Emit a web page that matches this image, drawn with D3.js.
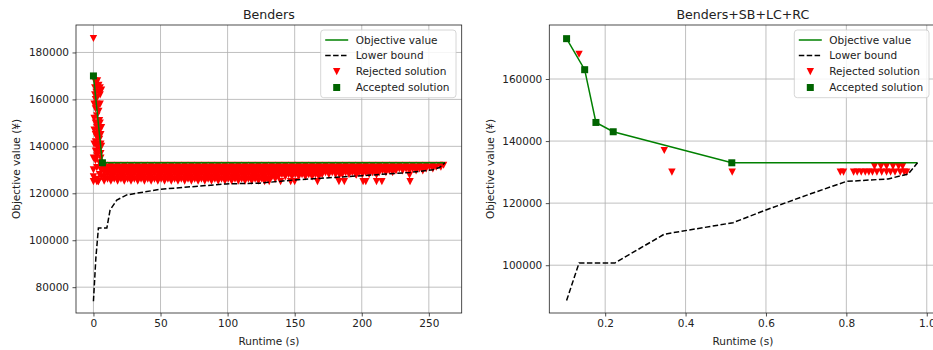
<!DOCTYPE html>
<html>
<head>
<meta charset="utf-8">
<script src="https://cdn.jsdelivr.net/npm/d3@7"></script>
<style>
  body { margin: 0; background: #fff; }
  svg { display: block; font-family: "DejaVu Sans", sans-serif; }
</style>
</head>
<body>
<div id="container"></div>
<script>
// ---- data: Benders (left) ----
const bendersObjT = [0, 6.7, 262];
const bendersObjV = [170000, 133000, 133000];
const bendersLbT = [0, 1.8, 3.7, 10, 12.4, 17.4, 24.8, 49.6, 99, 124, 150, 200, 236, 253, 258, 262];
const bendersLbV = [74000, 92400, 105200, 105200, 112900, 117100, 119300, 121700, 124000, 124300, 125700, 127500, 128900, 130000, 131000, 133000];
const bendersAccT = [0, 6.7];
const bendersAccV = [170000, 133000];

// rejected solutions in the first seconds
const bendersRejEarlyT = [0, 0, 0, 0, 0, 0.5, 0.5, 0.5, 0.5, 1, 1, 1, 1.5, 1.5, 1.5, 1.5, 1.5, 1.5, 1.5,
  2, 2, 2.5, 2.5, 2.5, 2.5, 2.5, 2.5, 2.5, 2.5, 3, 3, 3, 3.5, 3.5, 3.5, 3.5, 3.5, 3.5,
  4, 4, 4, 4.5, 4.5, 4.5, 4.5, 4.5, 4.5, 5, 5, 5, 5, 5.5, 5.5, 5.5, 5.5, 5.5, 6, 6, 6, 6, 6];
const bendersRejEarlyV = [186000, 135000, 130000, 127000, 125000, 158000, 152000, 147000, 141000, 168000, 165000, 162000, 160000, 156000, 150000, 145000, 142000, 138000, 134000,
  167000, 163000, 158000, 153000, 148000, 144000, 140000, 136000, 131000, 126000, 168000, 165000, 161000, 157000, 150000, 146000, 141000, 137000, 125000,
  166000, 163000, 155000, 151000, 147000, 143000, 139000, 133000, 128000, 165000, 162000, 158000, 150000, 145000, 141000, 137000, 135000, 130000, 164000, 148000, 140000, 132000, 127000];

// dense band of rejected solutions, read row by row
const bendersRejRowV = [132000, 131200, 130400, 129600, 128800, 128000, 127000, 126100, 125200];
const bendersRejRowT = [
  [8, 13, 18, 23, 28, 33, 38, 43, 48, 53, 58, 63, 68, 73, 78, 83, 88, 93, 98, 103, 108, 113, 118, 123, 128, 133, 138, 143, 148, 153, 158, 163, 168, 173, 178, 183, 188, 193, 198, 203, 208, 213, 218, 223, 228, 233, 238, 243, 248, 253, 258, 261],
  [10.5, 15.5, 20.5, 25.5, 30.5, 35.5, 40.5, 45.5, 50.5, 55.5, 60.5, 65.5, 70.5, 75.5, 80.5, 85.5, 90.5, 95.5, 100.5, 105.5, 110.5, 115.5, 120.5, 125.5, 130.5, 135.5, 140.5, 145.5, 150.5, 155.5, 160.5, 165.5, 170.5, 175.5, 180.5, 185.5, 190.5, 195.5, 200.5, 205.5, 210.5, 215.5, 220.5, 225.5, 230.5, 235.5, 240.5, 245.5, 250.5, 255.5, 259],
  [8, 13, 18, 23, 28, 33, 38, 43, 48, 53, 58, 63, 68, 73, 78, 83, 88, 93, 98, 103, 108, 113, 118, 123, 128, 133, 138, 143, 148, 153, 158, 163, 168, 173, 178, 183, 188, 193, 198, 203, 208, 213, 218, 223, 228, 233, 238, 243, 248, 253],
  [10.5, 15.5, 20.5, 25.5, 30.5, 35.5, 40.5, 45.5, 50.5, 55.5, 60.5, 65.5, 70.5, 75.5, 80.5, 85.5, 90.5, 95.5, 100.5, 105.5, 110.5, 115.5, 120.5, 125.5, 130.5, 135.5, 140.5, 145.5, 150.5, 155.5, 160.5, 165.5, 170.5, 175.5, 180.5, 185.5, 190.5, 195.5, 200.5, 205.5, 210.5, 215.5, 220.5, 225.5, 230.5, 235.5, 240.5, 245.5],
  [8, 13, 18, 23, 28, 33, 38, 43, 48, 53, 58, 63, 68, 73, 78, 83, 88, 93, 98, 103, 108, 113, 118, 123, 128, 133, 138, 143, 148, 153, 158, 163, 168, 173, 178, 183, 188, 193, 198, 203, 208, 213, 218, 223],
  [10.5, 15.5, 20.5, 25.5, 30.5, 35.5, 40.5, 45.5, 50.5, 55.5, 60.5, 65.5, 70.5, 75.5, 80.5, 85.5, 90.5, 95.5, 100.5, 105.5, 110.5, 115.5, 120.5, 125.5, 130.5, 135.5, 140.5, 145.5, 150.5, 155.5, 160.5, 165.5, 170.5, 175.5, 180.5, 185.5, 190.5, 195.5, 200.5, 205.5],
  [8, 13, 18, 23, 28, 33, 38, 43, 48, 53, 58, 63, 68, 73, 78, 83, 88, 93, 98, 103, 108, 113, 118, 123, 128, 133, 138, 143, 148, 153, 158, 163, 168],
  [10.5, 15.5, 20.5, 25.5, 30.5, 35.5, 40.5, 45.5, 50.5, 55.5, 60.5, 65.5, 70.5, 75.5, 80.5, 85.5, 90.5, 95.5, 100.5, 105.5, 110.5, 115.5, 120.5, 125.5, 130.5, 135.5],
  [8, 13, 18, 23, 28, 33, 38, 43, 48, 53, 58, 63, 68, 73, 78, 83, 88, 93, 98, 103, 108, 113, 118, 123]
];
// scattered rejected solutions below the band
const bendersRejLateT = [2.5, 3.7, 127.6, 131, 139.5, 147, 150, 167, 183, 187, 201, 203, 211, 215, 236, 183.5, 196, 211, 235.6];
const bendersRejLateV = [125000, 125000, 125000, 125000, 125000, 125000, 125000, 125000, 125000, 125000, 125000, 125000, 125000, 125000, 125000, 127800, 127800, 127800, 127800];

// ---- data: Benders+SB+LC+RC (right) ----
const fullObjT = [0.104, 0.149, 0.177, 0.22, 0.515, 0.977];
const fullObjV = [173000, 163000, 146000, 143000, 133000, 133000];
const fullLbT = [0.104, 0.135, 0.224, 0.347, 0.518, 0.6, 0.7, 0.8, 0.904, 0.954, 0.977];
const fullLbV = [88600, 100700, 100700, 110000, 113700, 117800, 122500, 127000, 127800, 129400, 133000];
const fullAccT = [0.104, 0.149, 0.177, 0.22, 0.515];
const fullAccV = [173000, 163000, 146000, 143000, 133000];
const fullRejT = [0.135, 0.347, 0.366, 0.516,
  0.785, 0.793, 0.818, 0.827, 0.837, 0.847, 0.856, 0.865, 0.876, 0.888, 0.9, 0.91, 0.921, 0.934, 0.944, 0.95,
  0.87, 0.886, 0.9, 0.916, 0.93, 0.94];
const fullRejV = [168000, 137000, 130000, 130000,
  130000, 130000, 130000, 130000, 130000, 130000, 130000, 130000, 130000, 130000, 130000, 130000, 130000, 130000, 130000, 130000,
  131900, 131900, 131900, 131900, 131900, 131900];

const bendersXTicks = [0, 50, 100, 150, 200, 250];
const bendersYTicks = [80000, 100000, 120000, 140000, 160000, 180000];
const fullXTicks = [0.2, 0.4, 0.6, 0.8, 1.0];
const fullYTicks = [100000, 120000, 140000, 160000];
const legendLabels = ["Objective value", "Lower bound", "Rejected solution", "Accepted solution"];

const zip = (t, v) => t.map((d, i) => ({ t: d, v: v[i] }));

const bendersRej = zip(bendersRejEarlyT, bendersRejEarlyV)
  .concat(...bendersRejRowT.map((row, i) => row.map(t => ({ t: t, v: bendersRejRowV[i] }))))
  .concat(zip(bendersRejLateT, bendersRejLateV));

const svg = d3.select("#container").append("svg")
  .attr("width", 933).attr("height", 350);

const triPath = "M-3.7,-3.5L3.7,-3.5L0,3.7Z";

function drawPanel(opt) {
  const x = d3.scaleLinear().domain(opt.xDomain).range([opt.left, opt.right]);
  const y = d3.scaleLinear().domain(opt.yDomain).range([313, 25]);
  const g = svg.append("g");

  // grid
  g.selectAll(".gx").data(opt.xTicks).enter().append("line")
    .attr("x1", d => x(d)).attr("x2", d => x(d)).attr("y1", 25).attr("y2", 313)
    .attr("stroke", "#b0b0b0").attr("stroke-width", 0.8);
  g.selectAll(".gy").data(opt.yTicks).enter().append("line")
    .attr("x1", opt.left).attr("x2", opt.right).attr("y1", d => y(d)).attr("y2", d => y(d))
    .attr("stroke", "#b0b0b0").attr("stroke-width", 0.8);

  // rejected
  g.selectAll(".rej").data(opt.rej).enter().append("path")
    .attr("d", triPath)
    .attr("transform", d => `translate(${x(d.t)},${y(d.v)})`)
    .attr("fill", "red");

  const line = d3.line().x(d => x(d.t)).y(d => y(d.v));
  g.append("path").datum(opt.obj).attr("d", line)
    .attr("fill", "none").attr("stroke", "green").attr("stroke-width", 1.5);
  g.append("path").datum(opt.lb).attr("d", line)
    .attr("fill", "none").attr("stroke", "black").attr("stroke-width", 1.5)
    .attr("stroke-dasharray", "5.5,2.4");

  g.selectAll(".acc").data(opt.acc).enter().append("rect")
    .attr("x", d => x(d.t) - 3.5).attr("y", d => y(d.v) - 3.5)
    .attr("width", 7).attr("height", 7).attr("fill", "darkgreen");

  // axes
  const xAxis = d3.axisBottom(x).tickValues(opt.xTicks).tickFormat(opt.xFormat)
    .tickSizeInner(3.5).tickSizeOuter(0).tickPadding(3.5);
  const yAxis = d3.axisLeft(y).tickValues(opt.yTicks).tickFormat(d3.format("d"))
    .tickSizeInner(3.5).tickSizeOuter(0).tickPadding(3.5);
  const ax = g.append("g").attr("transform", "translate(0,313)").call(xAxis);
  const ay = g.append("g").attr("transform", `translate(${opt.left},0)`).call(yAxis);
  [ax, ay].forEach(a => {
    a.select(".domain").remove();
    a.selectAll("line").attr("stroke", "#222").attr("stroke-width", 0.8);
    a.selectAll("text").attr("fill", "#222").style("font-size", "10.5px")
      .style("font-family", "DejaVu Sans");
  });

  // frame
  g.append("rect").attr("x", opt.left).attr("y", 25)
    .attr("width", opt.right - opt.left).attr("height", 288)
    .attr("fill", "none").attr("stroke", "#222").attr("stroke-width", 0.8);

  // titles
  g.append("text").attr("x", (opt.left + opt.right) / 2).attr("y", 19)
    .attr("text-anchor", "middle").style("font-size", "12.6px").attr("fill", "#222")
    .text(opt.title);
  g.append("text").attr("x", (opt.left + opt.right) / 2).attr("y", 345)
    .attr("text-anchor", "middle").style("font-size", "10.5px").attr("fill", "#222")
    .text("Runtime (s)");
  g.append("text").attr("transform", `translate(${opt.yLabelX},169) rotate(-90)`)
    .attr("text-anchor", "middle").style("font-size", "10.5px").attr("fill", "#222")
    .text("Objective value (¥)");

  // legend
  const lg = g.append("g").attr("transform", `translate(${opt.legendX},30)`);
  lg.append("rect").attr("width", opt.legendW).attr("height", 67.7).attr("rx", 3)
    .attr("fill", "white").attr("fill-opacity", 0.85).attr("stroke", "#cccccc").attr("stroke-width", 0.8);
  const rowY = [10, 25.5, 41.5, 57.5];
  lg.append("line").attr("x1", 4.5).attr("x2", 27.5).attr("y1", rowY[0]).attr("y2", rowY[0])
    .attr("stroke", "green").attr("stroke-width", 1.5);
  lg.append("line").attr("x1", 4.5).attr("x2", 27.5).attr("y1", rowY[1]).attr("y2", rowY[1])
    .attr("stroke", "black").attr("stroke-width", 1.5).attr("stroke-dasharray", "5.5,2.4");
  lg.append("path").attr("d", triPath).attr("transform", `translate(16,${rowY[2]})`).attr("fill", "red");
  lg.append("rect").attr("x", 12.5).attr("y", rowY[3] - 3.5).attr("width", 7).attr("height", 7).attr("fill", "darkgreen");
  lg.selectAll(".lt").data(legendLabels).enter().append("text")
    .attr("x", 35).attr("y", (d, i) => rowY[i] + 3.8)
    .style("font-size", "10.5px").attr("fill", "#222").text(d => d);
}

drawPanel({
  title: "Benders", left: 76, right: 461.7,
  xDomain: [-13, 274.5], yDomain: [69000, 191700],
  xTicks: bendersXTicks, yTicks: bendersYTicks, xFormat: d3.format("d"),
  rej: bendersRej, obj: zip(bendersObjT, bendersObjV), lb: zip(bendersLbT, bendersLbV),
  acc: zip(bendersAccT, bendersAccV), yLabelX: 20, legendX: 320.7, legendW: 135.3
});

drawPanel({
  title: "Benders+SB+LC+RC", left: 549.3, right: 936.4,
  xDomain: [0.061, 1.024], yDomain: [84600, 177400],
  xTicks: fullXTicks, yTicks: fullYTicks, xFormat: d3.format(".1f"),
  rej: zip(fullRejT, fullRejV), obj: zip(fullObjT, fullObjV), lb: zip(fullLbT, fullLbV),
  acc: zip(fullAccT, fullAccV), yLabelX: 494, legendX: 794.3, legendW: 134.7
});
</script>
</body>
</html>
